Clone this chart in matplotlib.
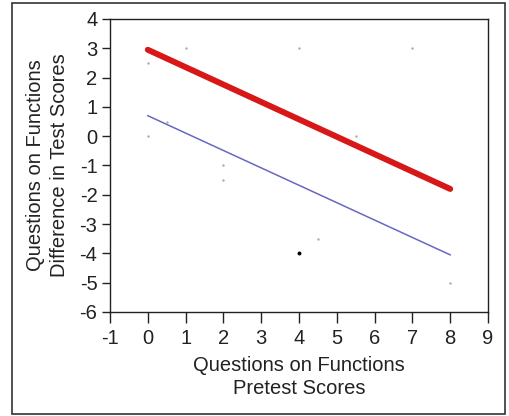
import matplotlib
matplotlib.use("Agg")
import matplotlib.pyplot as plt
from matplotlib.patches import Rectangle

# pretest score vs difference in test scores
pre_x = [0, 1, 4, 7, 0, 0.5, 2, 2, 4.5, 5.5, 8]
diff_y = [2.5, 3, 3, 3, 0, 0.5, -1, -1.5, -3.5, 0, -5]
dark_x = [4]
dark_y = [-4]

# fit lines (end points)
fit_x = [0, 8]
red_y = [2.95, -1.8]
blue_y = [0.7, -4.05]

xticks = list(range(-1, 10))
yticks = list(range(-6, 5))

plt.rcParams['font.family'] = ['Liberation Sans', 'DejaVu Sans']
plt.rcParams['axes.unicode_minus'] = False

fig = plt.figure(figsize=(5.1, 4.16), dpi=100)
ax = fig.add_axes([110/510, 1 - 312/416, 378/510, 293/416])

ax.plot(fit_x, blue_y, color='#6868c0', lw=1.1, zorder=2)
ax.plot(fit_x, red_y, color='#d81818', lw=4.3, solid_capstyle='round', zorder=3)
ax.scatter(pre_x, diff_y, s=3, color='#aaaaaa', zorder=4, linewidths=0)
ax.scatter(dark_x, dark_y, s=8, color='black', zorder=4, linewidths=0)

ax.set_xlim(-1, 9)
ax.set_ylim(-6, 4)
ax.set_xticks(xticks)
ax.set_yticks(yticks)
ax.tick_params(direction='out', width=1, labelsize=14.5, color='#222222', labelcolor='#222222')
ax.tick_params(axis='x', length=8, pad=4)
ax.tick_params(axis='y', length=6, pad=3)
for s in ax.spines.values():
    s.set_linewidth(1)
    s.set_color('#222222')

ax.set_xlabel("Questions on Functions\nPretest Scores", fontsize=14.5, linespacing=1.3,
              labelpad=6, color='#222222')
ax.set_ylabel("Questions on Functions\nDifference in Test Scores", fontsize=14.5, linespacing=1.3,
              labelpad=8, color='#222222')

# outer frame
fig.patches.append(Rectangle((12/510, 2/416), 493/510, 411/416, transform=fig.transFigure,
                             fill=False, edgecolor='#333333', lw=1.2))

fig.savefig("out.png", dpi=100)
